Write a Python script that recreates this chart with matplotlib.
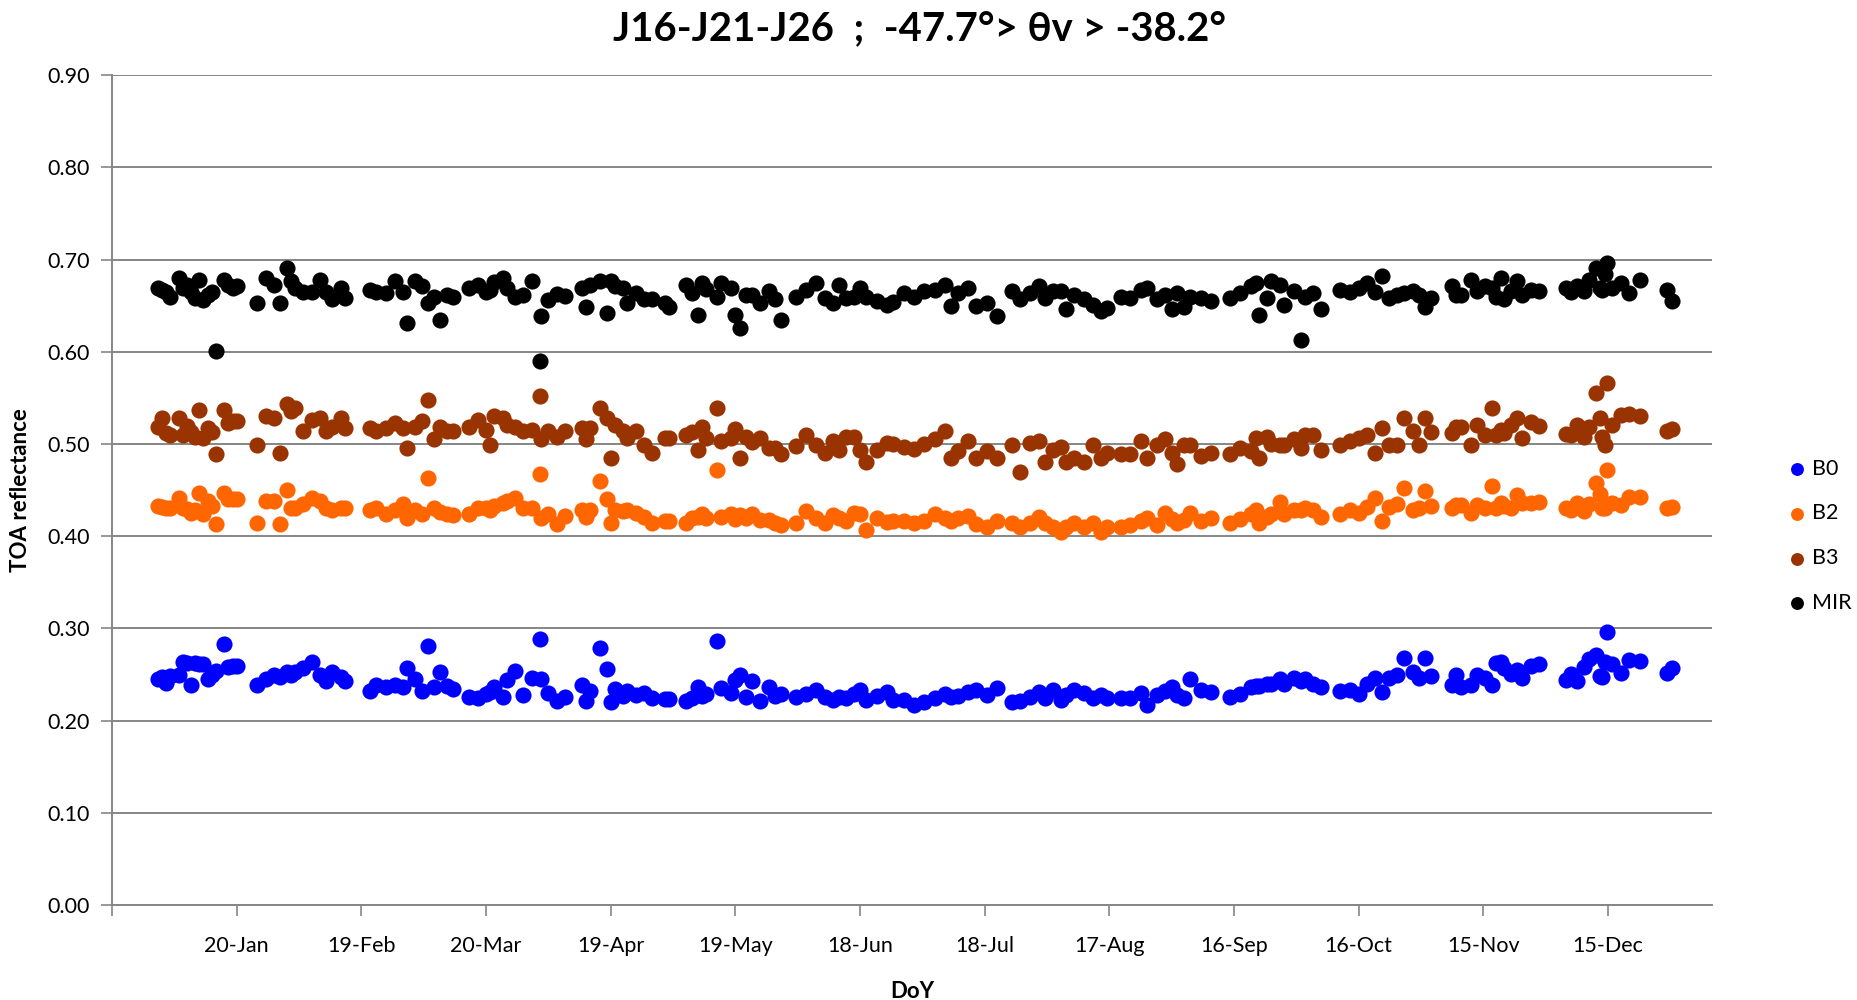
import matplotlib
matplotlib.use("Agg")
import matplotlib.pyplot as plt

plt.rcParams['font.family'] = ['Lato', 'DejaVu Sans']

# day of year (2012) of each acquisition, grouped by 26-day cycle
doy = [1, 2, 3, 4, 6, 7, 8, 9, 10, 11, 12, 13, 14, 15, 17, 18, 19, 20,
       25, 27, 29, 30.5, 32, 33, 34, 36, 38, 40, 41.5, 43, 45, 46,
       52, 53.5, 56, 58, 60, 61, 63, 64.5, 66, 67.5, 69, 70.5, 72,
       76, 78, 80, 81, 82, 84, 85, 87, 89, 91, 93, 93.3, 95, 97, 99,
       103, 104, 105, 107.5, 109, 110, 111, 113, 114, 116, 118, 120, 123, 124,
       128, 129.5, 131, 132, 133, 135.6, 136.5, 139, 140, 141, 142.5, 144, 146, 148, 149.5, 151,
       154.5, 157, 159.5, 161.5, 163.5, 165, 166.5, 168.5, 170, 171.5, 174, 176.5, 178,
       180.5, 183, 185.5, 188, 190.5, 192, 193.5, 196, 198, 200.5, 203,
       206.5, 208.5, 211, 213, 214.5, 216.5, 218.3, 219.5, 221.5, 224, 226, 228, 229.5,
       232.7, 235, 237.5, 239, 241.5, 243.5, 245, 246.3, 248, 249.5, 252, 254.5,
       259, 261.5, 264, 265.2, 266, 268, 269, 271, 272, 274.4, 276, 277, 279, 281,
       285.6, 288, 290, 292, 294, 295.7, 297.3, 299.3, 301, 303, 304.5, 306, 307.3,
       312.5, 313.5, 314.5, 316.9, 318.5, 320.5, 322, 323, 324.2, 325, 326.6, 328.2, 329.4, 331.4, 333.4,
       339.8, 341, 342.6, 344.2, 345.4, 347, 348, 348.6, 349.2, 349.8, 351, 353, 355, 357.8,
       364.3, 365.5]

mir = [.669, .667, .665, .660, .680, .669, .672, .665, .658, .678, .656, .662, .665, .601, .678, .672, .669, .671,
       .653, .680, .672, .653, .691, .677, .669, .665, .665, .678, .665, .657, .669, .658,
       .667, .665, .664, .677, .665, .631, .677, .671, .653, .660, .635, .662, .660,
       .669, .672, .665, .667, .676, .680, .669, .660, .662, .677, .590, .639, .656, .663, .661,
       .669, .649, .672, .677, .642, .677, .671, .669, .653, .664, .657, .657, .653, .649,
       .673, .664, .640, .675, .668, .660, .675, .669, .640, .626, .662, .662, .653, .666, .657, .635,
       .660, .667, .675, .658, .653, .672, .658, .660, .669, .660, .655, .651, .654,
       .664, .660, .666, .667, .673, .650, .664, .669, .650, .653, .639,
       .666, .657, .664, .671, .658, .666, .666, .646, .662, .657, .651, .644, .648,
       .660, .658, .667, .669, .657, .662, .646, .664, .649, .660, .658, .655,
       .658, .664, .671, .675, .640, .658, .677, .673, .651, .666, .613, .660, .664, .646,
       .667, .665, .669, .675, .665, .682, .658, .662, .664, .666, .662, .649, .658,
       .671, .662, .662, .678, .666, .671, .669, .660, .680, .657, .666, .677, .662, .667, .666,
       .669, .665, .671, .666, .678, .691, .669, .667, .685, .696, .669, .675, .664, .678,
       .667, .655]

b3 = [.519, .528, .512, .510, .528, .510, .520, .513, .508, .537, .507, .517, .513, .489, .537, .523, .525, .525,
      .499, .530, .528, .490, .543, .536, .539, .514, .526, .528, .514, .519, .528, .517,
      .517, .514, .517, .523, .517, .496, .519, .525, .548, .505, .519, .514, .514,
      .519, .526, .515, .499, .530, .528, .521, .519, .514, .515, .552, .505, .514, .508, .514,
      .517, .506, .517, .539, .528, .485, .521, .514, .507, .514, .499, .490, .507, .507,
      .510, .513, .494, .519, .507, .539, .503, .507, .516, .485, .508, .502, .507, .496, .496, .489,
      .498, .510, .499, .490, .503, .494, .508, .508, .494, .480, .494, .501, .500,
      .497, .495, .500, .506, .514, .485, .492, .503, .485, .492, .485,
      .499, .470, .501, .503, .480, .494, .497, .480, .485, .480, .499, .485, .490,
      .489, .489, .503, .485, .499, .505, .490, .478, .499, .499, .487, .490,
      .489, .496, .492, .507, .485, .508, .500, .499, .499, .505, .496, .510, .510, .494,
      .499, .503, .507, .510, .490, .517, .499, .499, .528, .514, .499, .528, .513,
      .512, .519, .519, .499, .521, .510, .539, .510, .515, .512, .521, .528, .507, .524, .520,
      .511, .510, .521, .508, .519, .555, .528, .508, .499, .566, .521, .532, .533, .530,
      .514, .516]

b2 = [.433, .432, .431, .431, .442, .431, .430, .425, .428, .447, .424, .438, .433, .413, .447, .440, .440, .440,
      .414, .438, .438, .413, .450, .431, .431, .435, .442, .438, .431, .428, .431, .431,
      .428, .431, .424, .428, .435, .420, .428, .424, .463, .431, .426, .424, .423,
      .424, .431, .431, .428, .433, .436, .438, .441, .431, .431, .467, .420, .424, .413, .422,
      .428, .421, .428, .460, .440, .414, .428, .427, .428, .425, .421, .414, .416, .416,
      .414, .420, .421, .424, .420, .472, .421, .424, .419, .423, .420, .424, .418, .418, .414, .412,
      .414, .427, .420, .414, .423, .420, .417, .425, .424, .407, .420, .415, .417,
      .417, .414, .417, .424, .420, .417, .420, .422, .413, .410, .417,
      .414, .410, .414, .421, .414, .410, .405, .410, .414, .410, .414, .405, .410,
      .410, .412, .416, .420, .412, .425, .419, .414, .418, .425, .416, .420,
      .414, .419, .424, .428, .414, .421, .424, .437, .424, .428, .428, .431, .428, .421,
      .424, .428, .425, .432, .442, .417, .432, .435, .452, .428, .431, .449, .433,
      .431, .434, .434, .425, .434, .431, .454, .431, .436, .433, .431, .445, .436, .436, .437,
      .431, .429, .436, .427, .435, .458, .446, .431, .431, .472, .436, .434, .443, .443,
      .431, .432]

b0 = [.245, .247, .241, .248, .249, .264, .262, .239, .262, .261, .261, .245, .250, .254, .283, .258, .259, .259,
      .239, .245, .250, .247, .253, .250, .253, .257, .264, .250, .243, .253, .247, .243,
      .232, .239, .236, .239, .236, .257, .245, .232, .281, .236, .253, .238, .234,
      .226, .224, .229, .231, .236, .226, .244, .254, .228, .246, .288, .245, .230, .221, .226,
      .239, .221, .232, .279, .256, .220, .234, .227, .232, .228, .230, .225, .223, .223,
      .221, .224, .236, .227, .229, .286, .235, .230, .244, .249, .226, .243, .221, .236, .227, .229,
      .226, .229, .233, .226, .222, .226, .224, .229, .233, .222, .227, .231, .222,
      .222, .217, .220, .224, .229, .226, .227, .231, .233, .228, .235,
      .220, .221, .226, .231, .224, .233, .222, .228, .233, .230, .224, .228, .224,
      .225, .225, .230, .217, .228, .232, .237, .228, .225, .245, .233, .231,
      .226, .229, .236, .238, .238, .240, .240, .245, .240, .246, .243, .245, .240, .236,
      .232, .233, .229, .240, .246, .231, .246, .250, .268, .253, .246, .268, .248,
      .239, .249, .236, .239, .250, .246, .239, .262, .264, .257, .251, .255, .246, .259, .261,
      .244, .251, .243, .258, .267, .271, .248, .247, .264, .296, .261, .252, .266, .265,
      .252, .257]

tick_days = [20, 50, 80, 110, 140, 170, 200, 230, 260, 290, 320, 350]
tick_labels = ['20-Jan', '19-Feb', '20-Mar', '19-Apr', '19-May', '18-Jun',
               '18-Jul', '17-Aug', '16-Sep', '16-Oct', '15-Nov', '15-Dec']

fig = plt.figure(figsize=(18.58, 10), dpi=100)
ax = fig.add_axes([0.0603, 0.095, 0.8611, 0.8297])

grid_col = '#868686'
ms = 135
ax.scatter(doy, b0, s=ms, c='#0000FF', linewidths=0, label='B0', zorder=3)
ax.scatter(doy, b2, s=ms, c='#FF6600', linewidths=0, label='B2', zorder=3)
ax.scatter(doy, b3, s=ms, c='#993300', linewidths=0, label='B3', zorder=3)
ax.scatter(doy, mir, s=ms, c='#000000', linewidths=0, label='MIR', zorder=3)

ax.set_xlim(-10, 375)
ax.set_ylim(0, 0.9)
ax.set_yticks([i / 10 for i in range(10)])
ax.set_yticklabels(['%.2f' % (i / 10) for i in range(10)])
ax.set_xticks([-10] + tick_days)
ax.set_xticklabels([''] + tick_labels)
ax.yaxis.grid(True, color=grid_col, lw=1.4)
ax.set_axisbelow(True)

for s in ['top', 'right']:
    ax.spines[s].set_visible(False)
for s in ['left', 'bottom']:
    ax.spines[s].set_color(grid_col)
    ax.spines[s].set_linewidth(1.4)
ax.tick_params(axis='both', colors=grid_col, labelcolor='black', labelsize=15.5, length=8, width=1.2)
ax.tick_params(axis='x', pad=14)
ax.tick_params(axis='y', pad=8)

ax.set_xlabel('DoY', fontsize=16, fontweight='bold', labelpad=18)
ax.set_ylabel('TOA reflectance', fontsize=16, fontweight='bold', labelpad=12)

fig.text(0.495, 0.971, 'J16-J21-J26  ;  -47.7°> θv > -38.2°', ha='center', va='center',
         fontsize=28.8, fontweight='bold')

ax.legend(loc='center left', bbox_to_anchor=(1.0477, 0.445), frameon=False, fontsize=15.5,
          labelspacing=1.15, handletextpad=0.3, handlelength=0.8, borderpad=0,
          borderaxespad=0, markerscale=0.8)

fig.savefig('out.png', dpi=100)
